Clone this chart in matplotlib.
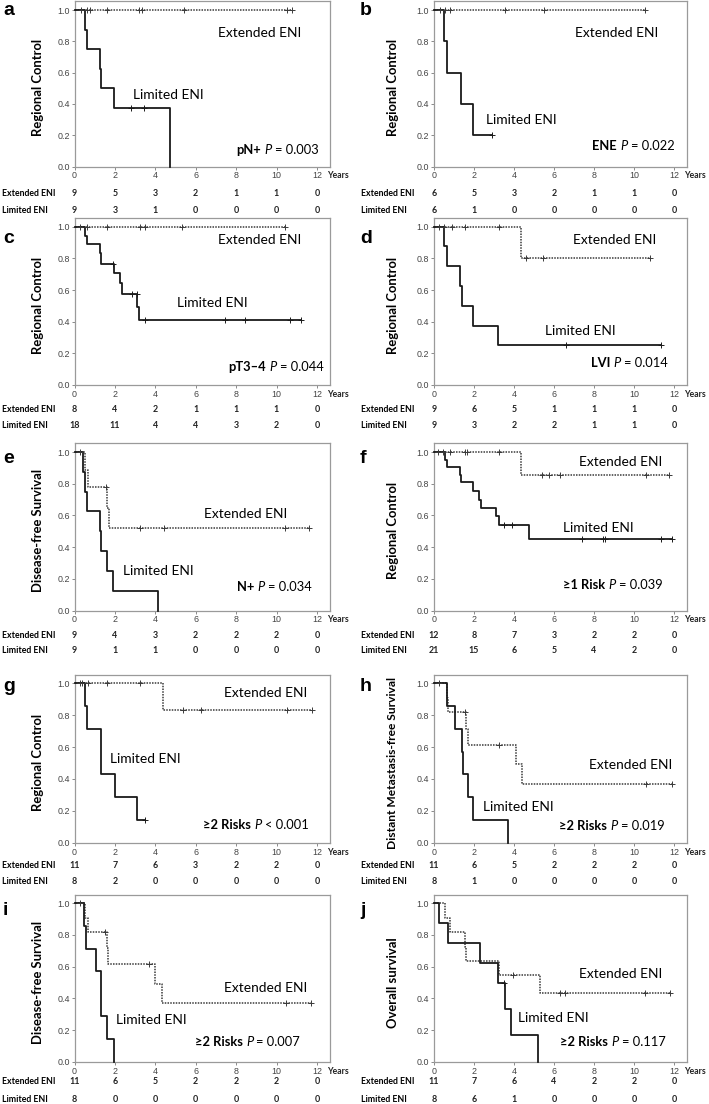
import numpy as np
import matplotlib
matplotlib.use('Agg')
import matplotlib.pyplot as plt
import matplotlib.transforms as mtransforms

W, H = 709, 1104

# ---- data (years, survival) ----
YEAR_TICKS = [0, 2, 4, 6, 8, 10, 12]

a_ext_t, a_ext_s = [], []
a_ext_c = [0.30, 0.63, 0.79, 1.62, 3.18, 3.35, 5.41, 10.53, 10.76]
a_lim_t = [0.51, 0.63, 1.25, 1.29, 1.95, 4.75]
a_lim_s = [0.875, 0.75, 0.625, 0.5, 0.375, 0.0]
a_lim_c = [2.82, 3.43]
a_ext_risk = [9, 5, 3, 2, 1, 1, 0]
a_lim_risk = [9, 3, 1, 0, 0, 0, 0]

b_ext_t, b_ext_s = [], []
b_ext_c = [0.30, 0.55, 0.80, 3.56, 5.48, 10.54]
b_lim_t = [0.50, 0.64, 1.35, 1.97]
b_lim_s = [0.8, 0.6, 0.4, 0.2]
b_lim_c = [2.89]
b_ext_risk = [6, 5, 3, 2, 1, 1, 0]
b_lim_risk = [6, 1, 0, 0, 0, 0, 0]

c_ext_t, c_ext_s = [], []
c_ext_c = [0.29, 0.62, 1.60, 3.23, 3.47, 5.32, 10.4]
c_lim_t = [0.51, 0.62, 1.27, 1.32, 1.97, 2.25, 2.33, 3.10, 3.20]
c_lim_s = [0.944, 0.889, 0.833, 0.765, 0.706, 0.647, 0.576, 0.494, 0.412]
c_lim_c = [1.92, 2.87, 3.07, 3.51, 7.47, 8.45, 10.65, 11.2]
c_ext_risk = [8, 4, 2, 1, 1, 1, 0]
c_lim_risk = [18, 11, 4, 4, 3, 2, 0]

d_ext_t = [4.33]
d_ext_s = [0.8]
d_ext_c = [0.25, 0.5, 0.88, 1.55, 3.27, 4.6, 5.43, 10.8]
d_lim_t = [0.52, 0.63, 1.3, 1.38, 1.97, 3.18]
d_lim_s = [0.875, 0.75, 0.625, 0.5, 0.375, 0.25]
d_lim_c = [6.58, 11.35]
d_ext_risk = [9, 6, 5, 1, 1, 1, 0]
d_lim_risk = [9, 3, 2, 2, 1, 1, 0]

e_ext_t = [0.54, 0.67, 1.6, 1.69]
e_ext_s = [0.889, 0.778, 0.648, 0.519]
e_ext_c = [0.25, 1.55, 3.24, 4.42, 10.44, 11.62]
e_lim_t = [0.43, 0.54, 0.62, 1.24, 1.33, 1.6, 1.93, 4.11]
e_lim_s = [0.875, 0.75, 0.625, 0.5, 0.375, 0.25, 0.125, 0.0]
e_lim_c = []
e_ext_risk = [9, 4, 3, 2, 2, 2, 0]
e_lim_risk = [9, 1, 1, 0, 0, 0, 0]

f_ext_t = [4.35]
f_ext_s = [0.857]
f_ext_c = [0.22, 0.47, 0.80, 1.56, 1.64, 3.23, 5.4, 5.74, 6.32, 10.58, 11.76]
f_lim_t = [0.55, 0.64, 1.3, 1.35, 1.94, 2.27, 2.36, 3.11, 3.23, 4.77]
f_lim_s = [0.952, 0.905, 0.857, 0.810, 0.752, 0.700, 0.648, 0.596, 0.541, 0.451]
f_lim_c = [3.48, 3.9, 7.41, 8.45, 8.55, 11.34, 11.92]
f_ext_risk = [12, 8, 7, 3, 2, 2, 0]
f_lim_risk = [21, 15, 6, 5, 4, 2, 0]

g_ext_t = [4.37]
g_ext_s = [0.833]
g_ext_c = [0.25, 0.38, 0.66, 1.61, 3.26, 5.35, 6.28, 10.51, 11.75]
g_lim_t = [0.51, 0.63, 1.29, 1.33, 1.99, 3.10]
g_lim_s = [0.857, 0.714, 0.571, 0.429, 0.286, 0.143]
g_lim_c = [3.51]
g_ext_risk = [11, 7, 6, 3, 2, 2, 0]
g_lim_risk = [8, 2, 0, 0, 0, 0, 0]

h_ext_t = [0.63, 0.68, 1.6, 1.72, 4.1, 4.38]
h_ext_s = [0.909, 0.818, 0.716, 0.614, 0.491, 0.368]
h_ext_c = [0.25, 1.55, 3.25, 10.6, 11.92]
h_lim_t = [0.63, 1.05, 1.38, 1.43, 1.68, 1.93, 3.72]
h_lim_s = [0.857, 0.714, 0.571, 0.429, 0.286, 0.143, 0.0]
h_lim_c = []
h_ext_risk = [11, 6, 5, 2, 2, 2, 0]
h_lim_risk = [8, 1, 0, 0, 0, 0, 0]

i_ext_t = [0.51, 0.66, 1.61, 1.66, 3.97, 4.33]
i_ext_s = [0.909, 0.818, 0.716, 0.614, 0.491, 0.368]
i_ext_c = [0.25, 1.5, 3.67, 10.48, 11.7]
i_lim_t = [0.46, 0.59, 1.04, 1.29, 1.32, 1.61, 1.94]
i_lim_s = [0.857, 0.714, 0.571, 0.429, 0.286, 0.143, 0.0]
i_lim_c = []
i_ext_risk = [11, 6, 5, 2, 2, 2, 0]
i_lim_risk = [8, 0, 0, 0, 0, 0, 0]

j_ext_t = [0.53, 0.78, 1.53, 1.61, 3.23, 5.31]
j_ext_s = [0.909, 0.818, 0.727, 0.636, 0.545, 0.436]
j_ext_c = [3.96, 6.29, 6.55, 10.53, 11.8]
j_lim_t = [0.23, 0.70, 2.3, 3.18, 3.56, 3.85, 5.22]
j_lim_s = [0.875, 0.75, 0.625, 0.5, 0.333, 0.167, 0.0]
j_lim_c = [3.52]
j_ext_risk = [11, 7, 6, 4, 2, 2, 0]
j_lim_risk = [8, 6, 1, 0, 0, 0, 0]

YLABELS = {'a': 'Regional Control', 'b': 'Regional Control', 'c': 'Regional Control',
           'd': 'Regional Control', 'e': 'Disease-free Survival', 'f': 'Regional Control',
           'g': 'Regional Control', 'h': 'Distant Metastasis-free Survival',
           'i': 'Disease-free Survival', 'j': 'Overall survival'}
SUBGROUP = {'a': 'pN+', 'b': 'ENE', 'c': 'pT3\u20134', 'd': 'LVI', 'e': 'N+',
            'f': '\u22651 Risk', 'g': '\u22652 Risks', 'h': '\u22652 Risks',
            'i': '\u22652 Risks', 'j': '\u22652 Risks'}
PVALUE = {'a': '= 0.003', 'b': '= 0.022', 'c': '= 0.044', 'd': '= 0.014', 'e': '= 0.034',
          'f': '= 0.039', 'g': '< 0.001', 'h': '= 0.019', 'i': '= 0.007', 'j': '= 0.117'}

# label positions (x in years, y in survival units): extended, limited, p-value
LABEL_POS = {'a': [(7.1, 0.85), (2.9, 0.455), (8.02, 0.107)],
             'b': [(7.04, 0.85), (2.59, 0.294), (7.91, 0.134)],
             'c': [(7.11, 0.915), (5.07, 0.518), (7.6, 0.112)],
             'd': [(6.97, 0.916), (5.55, 0.34), (7.83, 0.136)],
             'e': [(6.4, 0.606), (2.42, 0.248), (8.04, 0.147)],
             'f': [(7.24, 0.936), (6.45, 0.523), (6.44, 0.159)],
             'g': [(7.41, 0.937), (1.78, 0.523), (6.36, 0.111)],
             'h': [(7.77, 0.487), (2.43, 0.222), (6.25, 0.107)],
             'i': [(7.41, 0.463), (2.03, 0.263), (5.95, 0.122)],
             'j': [(7.25, 0.552), (4.21, 0.278), (6.29, 0.122)]}

g_ = globals()
PANELS = {}
for p in 'abcdefghij':
    PANELS[p] = dict(ext=(g_[p + '_ext_t'], g_[p + '_ext_s'], g_[p + '_ext_c']),
                     lim=(g_[p + '_lim_t'], g_[p + '_lim_s'], g_[p + '_lim_c']),
                     ext_risk=g_[p + '_ext_risk'], lim_risk=g_[p + '_lim_risk'])

# ---- layout in pixels ----
ROW_Y1 = [10, 226.7, 452, 683.3, 903.3]      # pixel y of survival 1.0
ROW_Y0 = [166.5, 385, 610.5, 842.7, 1061.7]  # pixel y of survival 0.0
COL_X0 = [74.5, 434]
PX_PER_YR = [20.2, 20.0]
RISK_Y = [(193, 210), (409, 425.5), (635, 650.7), (866, 881.7), (1082, 1099.5)]
LETTER_Y = [15, 243, 463, 691, 915]
YLABEL_X = [38, 393]
TOP_PAD = 8.7
XMAX = 12.65

LATO = ['Lato', 'DejaVu Sans']
ARIAL = ['Liberation Sans', 'DejaVu Sans']
EXT_COLOR = '#3a3a3a'
LIM_COLOR = '#1a1a1a'


def km_xy(t, s, c):
    end = max(t[-1] if t else 0, max(c) if c else 0)
    xs = [0.0] + list(t) + [end]
    ys = [1.0] + list(s) + [s[-1] if s else 1.0]
    return xs, ys


def surv_at(t, s, x):
    vals = [1.0] + list(s)
    idx = np.searchsorted(np.array(t), x, side='right')
    return vals[idx]


fig = plt.figure(figsize=(W / 100, H / 100), dpi=100)
renderer = fig.canvas.get_renderer()


def fit_size(text, target_px, base=10.0, **kw):
    t = fig.text(0, 0, text, fontsize=base, **kw)
    w = t.get_window_extent(renderer).width
    t.remove()
    return base * target_px / w


# y titles share one size (fitted to "Regional Control"), h is squeezed to fit
YSIZE = fit_size('Regional Control', 97, fontweight='bold', family=LATO)
YSIZE_H = fit_size('Distant Metastasis-free Survival', 172, fontweight='bold', family=LATO)

for k, p in enumerate('abcdefghij'):
    row, col = divmod(k, 2)
    x0, ppy = COL_X0[col], PX_PER_YR[col]
    y1, y0 = ROW_Y1[row], ROW_Y0[row]
    top = y1 - TOP_PAD
    right = x0 + XMAX * ppy
    ax = fig.add_axes([x0 / W, 1 - y0 / H, (right - x0) / W, (y0 - top) / H])
    ax.set_xlim(0, XMAX)
    ax.set_ylim(0, 1 + TOP_PAD / (y0 - y1))
    d = PANELS[p]

    for key, color, ls, lw in [('ext', EXT_COLOR, (0, (1, 0.8)), 1.1),
                                ('lim', LIM_COLOR, '-', 1.3)]:
        t, s, c = d[key]
        xs, ys = km_xy(t, s, c)
        ax.step(xs, ys, where='post', color=color, linestyle=ls, linewidth=lw,
                clip_on=False, zorder=3)
        if c:
            cy = [surv_at(t, s, x) for x in c]
            ax.plot(c, cy, linestyle='none', marker='+', markersize=5,
                    markeredgewidth=0.7, color=color, clip_on=False, zorder=4)

    for sp in ax.spines.values():
        sp.set_color('#9a9a9a')
        sp.set_linewidth(0.9)
    ax.set_xticks(YEAR_TICKS)
    ax.set_yticks(np.arange(0, 1.01, 0.2))
    ax.set_yticklabels([f'{v:.1f}' for v in np.arange(0, 1.01, 0.2)])
    ax.tick_params(labelsize=6.4, colors='#777777', labelcolor='#444444',
                   length=2.5, width=0.6, pad=1)
    for lab in ax.get_xticklabels() + ax.get_yticklabels():
        lab.set_family(ARIAL)

    # "Years" after the last tick
    ax.annotate('Years', xy=(12, 0), xycoords='data', xytext=(7, -6.8),
                textcoords='offset points', ha='left', va='center',
                fontsize=6.2, fontweight='bold', family=LATO, color='#222222')

    # y-axis title
    ysize = YSIZE_H if p == 'h' else YSIZE
    fig.text(YLABEL_X[col] / W, 1 - ((top + y0) / 2 + 4) / H, YLABELS[p], rotation=90,
             ha='center', va='center', fontsize=ysize, fontweight='bold', family=LATO)

    (ex, ey), (lx, ly), (px, py) = LABEL_POS[p]
    ax.text(ex, ey, 'Extended ENI', fontsize=9.9, family=LATO, va='center', ha='left')
    ax.text(lx, ly, 'Limited ENI', fontsize=9.9, family=LATO, va='center', ha='left')
    t1 = ax.text(px, py, SUBGROUP[p], fontsize=9.3, fontweight='bold', family=LATO,
                 va='center', ha='left')
    t2 = ax.annotate('P', xy=(1, 0.5), xycoords=t1, xytext=(2.4, 0),
                     textcoords='offset points', fontsize=9.3, style='italic',
                     family=LATO, va='center', ha='left')
    ax.annotate(PVALUE[p], xy=(1, 0.5), xycoords=t2, xytext=(2.4, 0),
                textcoords='offset points', fontsize=9.3, family=LATO,
                va='center', ha='left')

    # numbers at risk
    blend = mtransforms.blended_transform_factory(ax.transData, fig.transFigure)
    ry_ext, ry_lim = RISK_Y[row]
    for xv, n_ext, n_lim in zip(YEAR_TICKS, d['ext_risk'], d['lim_risk']):
        ax.text(xv, 1 - ry_ext / H, str(n_ext), transform=blend, ha='center',
                va='center', fontsize=6.4, family=LATO, fontweight='bold',
                color='#222222', clip_on=False)
        ax.text(xv, 1 - ry_lim / H, str(n_lim), transform=blend, ha='center',
                va='center', fontsize=6.4, family=LATO, fontweight='bold',
                color='#222222', clip_on=False)
    lab_x = 2 if col == 0 else 361
    fig.text(lab_x / W, 1 - ry_ext / H, 'Extended ENI', ha='left', va='center',
             fontsize=6.3, fontweight='bold', family=LATO)
    fig.text(lab_x / W, 1 - ry_lim / H, 'Limited ENI', ha='left', va='center',
             fontsize=6.3, fontweight='bold', family=LATO)

    # panel letter
    let_x = 3 if col == 0 else 360
    fig.text(let_x / W, 1 - LETTER_Y[row] / H, p, ha='left', va='baseline',
             fontsize=14, fontweight='bold', family=ARIAL)

fig.savefig('out.png', dpi=100, facecolor='white')
